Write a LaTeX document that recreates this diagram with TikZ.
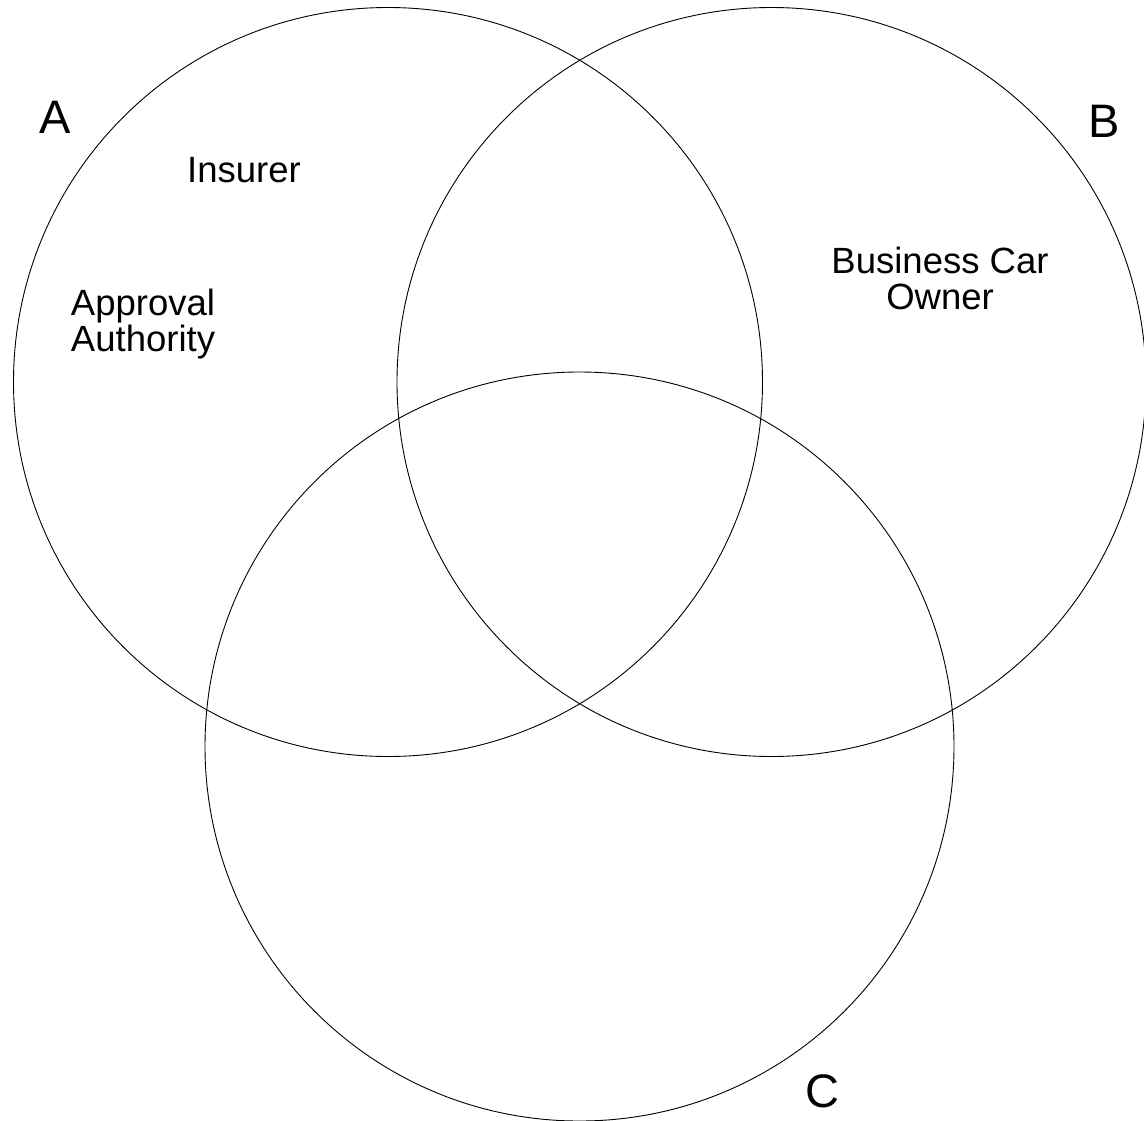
\documentclass[tikz,border=0pt]{standalone}
\usepackage{fontspec}
\setmainfont{Liberation Sans}
\begin{document}
\begin{tikzpicture}[x=1pt,y=-1pt,
  setcircle/.style={draw=black, line width=0.9pt, circle, minimum size=749pt, inner sep=0pt},
  lbl/.style={font=\fontsize{36.5}{36}\selectfont, inner sep=0pt, anchor=base, align=center},
  big/.style={font=\fontsize{47}{48}\selectfont, inner sep=0pt, anchor=base}]
\useasboundingbox (0,0) rectangle (1144,1120);
\node[setcircle] (cA) at (388,382) {};
\node[setcircle] (cB) at (771.5,382) {};
\node[setcircle] (cC) at (579.5,746.5) {};
\node[big] (tA) at (55,133) {A};
\node[big] (tB) at (1104,137) {B};
\node[big] (tC) at (822,1107) {C};
\node[lbl] (ins) at (244,182) {Insurer};
\node[lbl] (app) at (143,351) {Approval\\Authority};
\node[lbl] (bco) at (940,309) {Business Car\\Owner};
\end{tikzpicture}
\end{document}
